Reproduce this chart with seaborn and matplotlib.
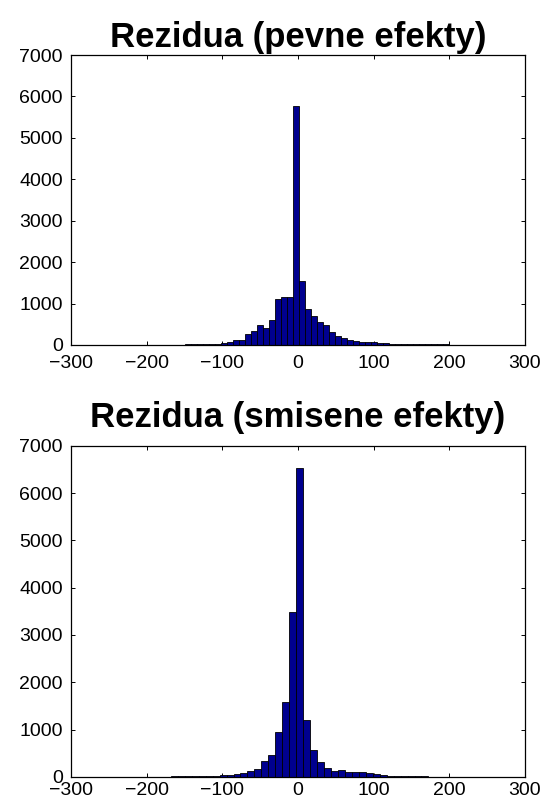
import numpy as np
import pandas as pd
import matplotlib
matplotlib.use("Agg")
import matplotlib.pyplot as plt
import seaborn as sns

# histogram counts (bins ordered left to right)
fixed_counts = [4, 6, 8, 12, 15, 30, 22, 28, 35, 45, 70, 130, 130, 273, 330,
                490, 420, 600, 1110, 1160, 1170, 5770, 1535, 876, 707, 563,
                483, 320, 225, 169, 130, 105, 80, 64, 65, 50, 42, 32, 28, 25,
                22, 20, 18, 15, 14, 12, 12, 10, 6, 5, 4, 4, 3, 3, 2, 2]
fixed_first_edge = -6.3 - 7.93 * 21
fixed_bin_width = 7.93

mixed_counts = [3, 4, 5, 5, 5, 6, 5, 6, 10, 12, 12, 18, 20, 25, 30, 35, 45,
                60, 90, 120, 177, 338, 473, 951, 1585, 3487, 6520, 1213, 579,
                317, 195, 130, 152, 115, 102, 95, 88, 65, 45, 28, 22, 20, 20,
                12, 10, 8, 8, 6, 5, 4, 3, 3, 2, 2, 2, 1]
mixed_first_edge = -2.4 - 9.2 * 26
mixed_bin_width = 9.2

titles = ["Rezidua (pevne efekty)", "Rezidua (smisene efekty)"]
x_ticks = [-300, -200, -100, 0, 100, 200, 300]
y_ticks = [0, 1000, 2000, 3000, 4000, 5000, 6000, 7000]

sns.set_style("ticks")
plt.rcParams["font.family"] = ["Liberation Sans", "DejaVu Sans"]
plt.rcParams["axes.unicode_minus"] = True
plt.rcParams["text.color"] = "black"
plt.rcParams["xtick.color"] = "black"
plt.rcParams["ytick.color"] = "black"
plt.rcParams["axes.labelcolor"] = "black"

fig = plt.figure(figsize=(5.46, 8.01), dpi=100)
ax_top = fig.add_axes([0.130, 0.5693, 0.8315, 0.362])
ax_bot = fig.add_axes([0.130, 0.030, 0.8315, 0.4136])

panels = [
    (ax_top, fixed_counts, fixed_first_edge, fixed_bin_width, titles[0], 6, 7.5),
    (ax_bot, mixed_counts, mixed_first_edge, mixed_bin_width, titles[1], 13.5, 3.5),
]

for ax, counts, first_edge, width, title, pad, xpad in panels:
    edges = first_edge + width * np.arange(len(counts) + 1)
    df = pd.DataFrame({
        "resid": (edges[:-1] + edges[1:]) / 2,
        "count": counts,
    })
    sns.histplot(data=df, x="resid", weights="count", bins=list(edges),
                 color="#00008F", alpha=1, edgecolor="black", linewidth=0.6,
                 ax=ax)
    ax.set_xlim(-300, 300)
    ax.set_ylim(0, 7000)
    ax.set_xticks(x_ticks)
    ax.set_yticks(y_ticks)
    ax.set_xlabel("")
    ax.set_ylabel("")
    ax.tick_params(direction="in", length=3, width=0.7, labelsize=14,
                   top=True, right=True, color="black", labelcolor="black")
    ax.tick_params(axis="x", pad=xpad)
    ax.tick_params(axis="y", pad=6)
    for s in ax.spines.values():
        s.set_visible(True)
        s.set_color("black")
        s.set_linewidth(0.9)
    ax.set_title(title, fontsize=25, fontweight="bold", pad=pad, color="black")

fig.savefig("out.png", dpi=100, facecolor="white")
